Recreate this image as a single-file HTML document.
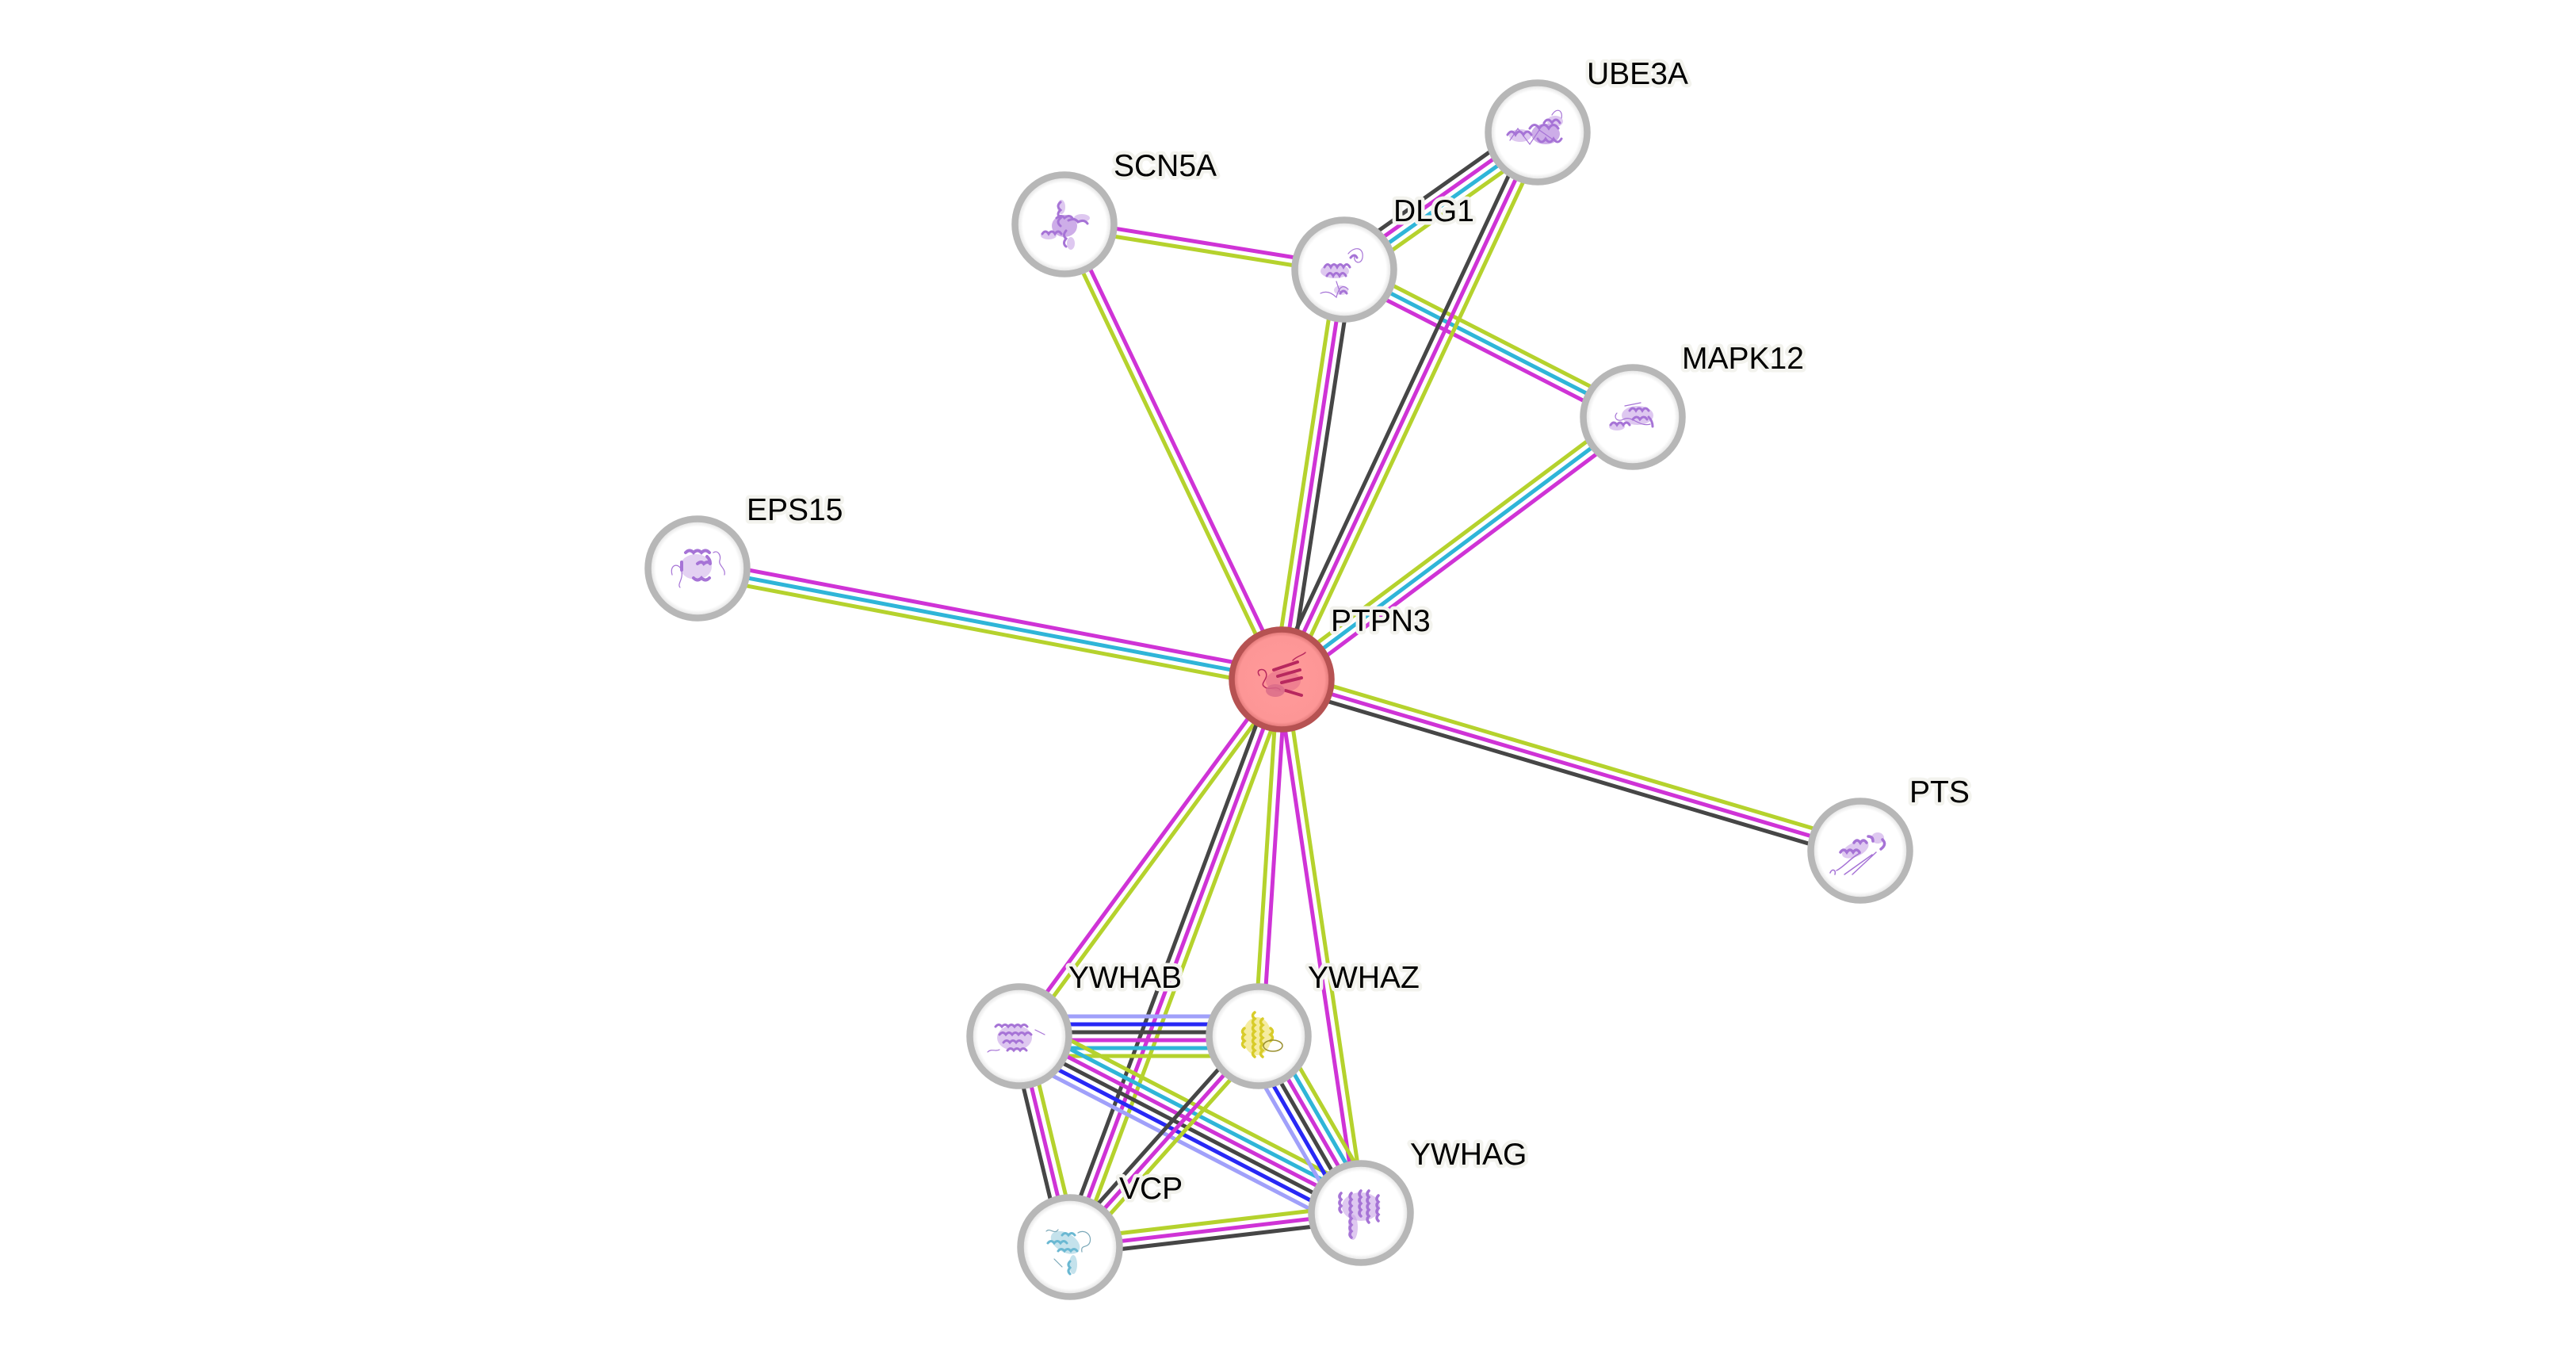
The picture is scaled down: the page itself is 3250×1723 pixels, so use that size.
<!DOCTYPE html>
<html>
<head>
<meta charset="utf-8">
<style>
  html,body{margin:0;padding:0;background:#fff;}
  svg{display:block;}
  .lbl{font-family:"Liberation Sans",Arial,sans-serif;font-size:39px;fill:#000;stroke:#f3f3ee;stroke-width:9px;paint-order:stroke;stroke-linejoin:round;}
  .e line{stroke-width:5;}
</style>
</head>
<body>
<svg width="3250" height="1723" viewBox="0 0 3250 1723" xmlns="http://www.w3.org/2000/svg">
<defs>
  <radialGradient id="ng" cx="50%" cy="50%" r="50%">
    <stop offset="0%" stop-color="#ffffff"/>
    <stop offset="84%" stop-color="#ffffff"/>
    <stop offset="100%" stop-color="#d6d6d6"/>
  </radialGradient>
  <radialGradient id="pg" cx="50%" cy="50%" r="50%">
    <stop offset="0%" stop-color="#ff9a9a"/>
    <stop offset="86%" stop-color="#fd9696"/>
    <stop offset="100%" stop-color="#d46a6a"/>
  </radialGradient>
</defs>
<rect width="3250" height="1723" fill="#fff"/>

<!-- EDGES -->
<g class="e">
  <g transform="translate(880 717) rotate(10.76)">
    <line x1="0" y1="-10" x2="750.2" y2="-10" stroke="#cf33d6"/>
    <line x1="0" y1="0" x2="750.2" y2="0" stroke="#2fb5d8"/>
    <line x1="0" y1="10" x2="750.2" y2="10" stroke="#b5d22d"/>
  </g>
  <g transform="translate(1343 283) rotate(64.48)">
    <line x1="0" y1="-5" x2="636" y2="-5" stroke="#cf33d6"/>
    <line x1="0" y1="5" x2="636" y2="5" stroke="#b5d22d"/>
  </g>
  <g transform="translate(1343 283) rotate(9.17)">
    <line x1="0" y1="-5" x2="357.6" y2="-5" stroke="#cf33d6"/>
    <line x1="0" y1="5" x2="357.6" y2="5" stroke="#b5d22d"/>
  </g>
  <g transform="translate(1696 340) rotate(98.69)">
    <line x1="0" y1="-10" x2="523" y2="-10" stroke="#464646"/>
    <line x1="0" y1="0" x2="523" y2="0" stroke="#cf33d6"/>
    <line x1="0" y1="10" x2="523" y2="10" stroke="#b5d22d"/>
  </g>
  <g transform="translate(1696 340) rotate(-35.33)">
    <line x1="0" y1="-15" x2="299.1" y2="-15" stroke="#464646"/>
    <line x1="0" y1="-5" x2="299.1" y2="-5" stroke="#cf33d6"/>
    <line x1="0" y1="5" x2="299.1" y2="5" stroke="#2fb5d8"/>
    <line x1="0" y1="15" x2="299.1" y2="15" stroke="#b5d22d"/>
  </g>
  <g transform="translate(1696 340) rotate(27.06)">
    <line x1="0" y1="-10" x2="408.8" y2="-10" stroke="#b5d22d"/>
    <line x1="0" y1="0" x2="408.8" y2="0" stroke="#2fb5d8"/>
    <line x1="0" y1="10" x2="408.8" y2="10" stroke="#cf33d6"/>
  </g>
  <g transform="translate(1617 857) rotate(-64.92)">
    <line x1="0" y1="-10" x2="761.9" y2="-10" stroke="#464646"/>
    <line x1="0" y1="0" x2="761.9" y2="0" stroke="#cf33d6"/>
    <line x1="0" y1="10" x2="761.9" y2="10" stroke="#b5d22d"/>
  </g>
  <g transform="translate(1617 857) rotate(-36.77)">
    <line x1="0" y1="-10" x2="553" y2="-10" stroke="#b5d22d"/>
    <line x1="0" y1="0" x2="553" y2="0" stroke="#2fb5d8"/>
    <line x1="0" y1="10" x2="553" y2="10" stroke="#cf33d6"/>
  </g>
  <g transform="translate(1617 857) rotate(16.48)">
    <line x1="0" y1="-10" x2="761.3" y2="-10" stroke="#b5d22d"/>
    <line x1="0" y1="0" x2="761.3" y2="0" stroke="#cf33d6"/>
    <line x1="0" y1="10" x2="761.3" y2="10" stroke="#464646"/>
  </g>
  <g transform="translate(1617 857) rotate(126.33)">
    <line x1="0" y1="-5" x2="558.6" y2="-5" stroke="#b5d22d"/>
    <line x1="0" y1="5" x2="558.6" y2="5" stroke="#cf33d6"/>
  </g>
  <g transform="translate(1617 857) rotate(110.45)">
    <line x1="0" y1="-10" x2="764.2" y2="-10" stroke="#b5d22d"/>
    <line x1="0" y1="0" x2="764.2" y2="0" stroke="#cf33d6"/>
    <line x1="0" y1="10" x2="764.2" y2="10" stroke="#464646"/>
  </g>
  <g transform="translate(1617 857) rotate(93.69)">
    <line x1="0" y1="-5" x2="450.9" y2="-5" stroke="#cf33d6"/>
    <line x1="0" y1="5" x2="450.9" y2="5" stroke="#b5d22d"/>
  </g>
  <g transform="translate(1617 857) rotate(81.55)">
    <line x1="0" y1="-5" x2="680.4" y2="-5" stroke="#b5d22d"/>
    <line x1="0" y1="5" x2="680.4" y2="5" stroke="#cf33d6"/>
  </g>
  <g transform="translate(1286 1307) rotate(0)">
    <line x1="0" y1="-25" x2="302" y2="-25" stroke="#a0a0fa"/>
    <line x1="0" y1="-15" x2="302" y2="-15" stroke="#2828f5"/>
    <line x1="0" y1="-5" x2="302" y2="-5" stroke="#464646"/>
    <line x1="0" y1="5" x2="302" y2="5" stroke="#cf33d6"/>
    <line x1="0" y1="15" x2="302" y2="15" stroke="#2fb5d8"/>
    <line x1="0" y1="25" x2="302" y2="25" stroke="#b5d22d"/>
  </g>
  <g transform="translate(1286 1307) rotate(27.36)">
    <line x1="0" y1="-25" x2="485.3" y2="-25" stroke="#b5d22d"/>
    <line x1="0" y1="-15" x2="485.3" y2="-15" stroke="#2fb5d8"/>
    <line x1="0" y1="-5" x2="485.3" y2="-5" stroke="#cf33d6"/>
    <line x1="0" y1="5" x2="485.3" y2="5" stroke="#464646"/>
    <line x1="0" y1="15" x2="485.3" y2="15" stroke="#2828f5"/>
    <line x1="0" y1="25" x2="485.3" y2="25" stroke="#a0a0fa"/>
  </g>
  <g transform="translate(1286 1307) rotate(76.47)">
    <line x1="0" y1="-10" x2="273.6" y2="-10" stroke="#b5d22d"/>
    <line x1="0" y1="0" x2="273.6" y2="0" stroke="#cf33d6"/>
    <line x1="0" y1="10" x2="273.6" y2="10" stroke="#464646"/>
  </g>
  <g transform="translate(1588 1307) rotate(59.95)">
    <line x1="0" y1="-25" x2="257.6" y2="-25" stroke="#b5d22d"/>
    <line x1="0" y1="-15" x2="257.6" y2="-15" stroke="#2fb5d8"/>
    <line x1="0" y1="-5" x2="257.6" y2="-5" stroke="#cf33d6"/>
    <line x1="0" y1="5" x2="257.6" y2="5" stroke="#464646"/>
    <line x1="0" y1="15" x2="257.6" y2="15" stroke="#2828f5"/>
    <line x1="0" y1="25" x2="257.6" y2="25" stroke="#a0a0fa"/>
  </g>
  <g transform="translate(1588 1307) rotate(131.82)">
    <line x1="0" y1="-10" x2="356.9" y2="-10" stroke="#b5d22d"/>
    <line x1="0" y1="0" x2="356.9" y2="0" stroke="#cf33d6"/>
    <line x1="0" y1="10" x2="356.9" y2="10" stroke="#464646"/>
  </g>
  <g transform="translate(1350 1573) rotate(-6.68)">
    <line x1="0" y1="-10" x2="369.5" y2="-10" stroke="#b5d22d"/>
    <line x1="0" y1="0" x2="369.5" y2="0" stroke="#cf33d6"/>
    <line x1="0" y1="10" x2="369.5" y2="10" stroke="#464646"/>
  </g>
</g>

<!-- NODES -->
<g stroke="#b7b7b7" stroke-width="8.5" fill="url(#ng)">
  <circle cx="1940" cy="167" r="62.5"/>
  <circle cx="1343" cy="283" r="62.5"/>
  <circle cx="1696" cy="340" r="62.5"/>
  <circle cx="2060" cy="526" r="62.5"/>
  <circle cx="880" cy="717" r="62.5"/>
  <circle cx="2347" cy="1073" r="62.5"/>
  <circle cx="1286" cy="1307" r="62.5"/>
  <circle cx="1588" cy="1307" r="62.5"/>
  <circle cx="1717" cy="1530" r="62.5"/>
  <circle cx="1350" cy="1573" r="62.5"/>
</g>
<circle cx="1617" cy="857" r="63" fill="url(#pg)" stroke="#b65252" stroke-width="7.5"/>

<!-- protein structure sketches -->
<g fill="none" stroke-linecap="round">
  <!-- UBE3A -->
  <g transform="translate(1940 167)" stroke="#a673d6" stroke-width="3">
    <ellipse cx="-22" cy="4" rx="14" ry="8" fill="#c8a4e6" stroke="none" opacity="0.6"/>
    <ellipse cx="10" cy="2" rx="18" ry="13" fill="#b88ade" stroke="none" opacity="0.7"/>
    <ellipse cx="22" cy="-14" rx="10" ry="7" fill="#c8a4e6" stroke="none" opacity="0.6"/>
    <path d="M-38 3 q5 -8 10 0 q5 -8 10 0 q5 -8 10 0 M-10 -5 q6 -9 12 0 q6 -9 12 0 q6 -9 12 0 M0 8 q5 8 10 0 q5 8 10 0 q5 8 10 0 M8 -12 q5 -8 10 0 q5 -8 10 0"/>
    <path d="M-35 10 l10 -15 l15 20 l12 -18 l20 14 M18 -22 c6 -10 14 -6 12 4" stroke-width="1.2"/>
  </g>
  <!-- SCN5A -->
  <g transform="translate(1343 283)" stroke="#a673d6" stroke-width="3">
    <ellipse cx="0" cy="2" rx="16" ry="14" fill="#b88ade" stroke="none" opacity="0.7"/>
    <ellipse cx="-20" cy="14" rx="10" ry="5" fill="#c8a4e6" stroke="none" opacity="0.6"/>
    <ellipse cx="22" cy="-8" rx="10" ry="5" fill="#c8a4e6" stroke="none" opacity="0.6"/>
    <ellipse cx="-4" cy="-22" rx="5" ry="9" fill="#c8a4e6" stroke="none" opacity="0.6"/>
    <ellipse cx="8" cy="24" rx="5" ry="8" fill="#c8a4e6" stroke="none" opacity="0.6"/>
    <path d="M-5 -28 q-6 5 0 10 q-6 5 0 10 q-6 5 0 10 M5 -5 q8 -4 12 2 q8 -4 12 2 M-28 12 q4 -6 8 0 q4 -6 8 0 q4 -6 8 0 M2 8 q-5 6 0 10 q-5 6 0 10 M-10 -8 q6 -5 10 0 q6 -5 10 0"/>
  </g>
  <!-- DLG1 -->
  <g transform="translate(1696 340)" stroke="#a673d6" stroke-width="3">
    <ellipse cx="-12" cy="2" rx="18" ry="9" fill="#c8a4e6" stroke="none" opacity="0.6"/>
    <ellipse cx="-4" cy="26" rx="9" ry="6" fill="#c8a4e6" stroke="none" opacity="0.5"/>
    <path d="M-25 -3 q4 -7 8 0 q4 -7 8 0 q4 -7 8 0 q4 -7 8 0 M-22 8 q4 -7 8 0 q4 -7 8 0 q4 -7 8 0 M-5 30 q4 -6 8 0 M8 -15 q5 -6 8 0"/>
    <path d="M-30 30 q10 -5 20 5 q5 -20 15 -10 M5 -20 c8 -10 20 -8 18 5 c-2 10 -12 6 -10 -2 M-10 15 l5 15" stroke-width="1.2"/>
  </g>
  <!-- MAPK12 -->
  <g transform="translate(2060 526)" stroke="#a673d6" stroke-width="3">
    <ellipse cx="6" cy="-2" rx="20" ry="12" fill="#c8a4e6" stroke="none" opacity="0.6"/>
    <ellipse cx="-20" cy="12" rx="10" ry="5" fill="#c8a4e6" stroke="none" opacity="0.6"/>
    <path d="M-28 10 q4 -6 8 0 q4 -6 8 0 q4 -6 8 0 M-4 -8 q4 -6 8 0 q4 -6 8 0 q4 -6 8 0 M0 3 q5 -6 9 0 q5 -6 9 0 M20 0 q5 5 5 12"/>
    <path d="M-20 -5 c-5 5 0 12 8 8 c10 -6 20 10 34 6 M-10 -14 l20 -4" stroke-width="1.2"/>
  </g>
  <!-- EPS15 -->
  <g transform="translate(880 717)" stroke="#a673d6" stroke-width="4">
    <ellipse cx="-2" cy="-2" rx="20" ry="16" fill="#c8a4e6" stroke="none" opacity="0.5"/>
    <path d="M-15 -20 q5 -5 10 0 q5 -5 10 0 q5 -5 10 0 M-20 -8 q0 5 0 10 M0 -6 q5 -4 8 0 q5 -4 8 0 M-5 12 q5 5 10 0 q5 5 10 0 M12 -15 q4 4 4 8"/>
    <path d="M-32 8 c-4 -14 10 -16 12 -4 c2 10 -6 16 -2 20 M20 -20 c6 -4 10 4 8 10 c-2 6 8 10 6 18" stroke-width="1.2"/>
  </g>
  <!-- PTS -->
  <g transform="translate(2347 1073)" stroke="#a673d6" stroke-width="3.5">
    <ellipse cx="-5" cy="-4" rx="18" ry="9" fill="#c8a4e6" stroke="none" opacity="0.6" transform="rotate(-25)"/>
    <ellipse cx="22" cy="-16" rx="8" ry="7" fill="#c8a4e6" stroke="none" opacity="0.6"/>
    <path d="M-25 2 q4 -6 8 0 q4 -6 8 0 q4 -6 8 0 M-8 -10 q4 -6 8 0 q4 -6 8 0 M10 -18 q6 0 6 6 M28 -14 q6 6 -2 12"/>
    <path d="M-30 25 c10 -5 20 -18 30 -22 M-20 30 l35 -25 M-10 30 l30 -28 M-38 28 c2 -6 8 -4 6 2" stroke-width="1.5"/>
  </g>
  <!-- YWHAB -->
  <g transform="translate(1286 1307)" stroke="#a673d6" stroke-width="3">
    <ellipse cx="-6" cy="2" rx="22" ry="16" fill="#c8a4e6" stroke="none" opacity="0.6"/>
    <path d="M-30 -12 q4 -5 8 0 q4 -5 8 0 q4 -5 8 0 q4 -5 8 0 q4 -5 8 0 M-25 -2 q4 -5 8 0 q4 -5 8 0 q4 -5 8 0 q4 -5 8 0 q4 -5 8 0 M-20 8 q4 -5 8 0 q4 -5 8 0 q4 -5 8 0 M-15 18 q4 -5 8 0 q4 -5 8 0 q4 -5 8 0"/>
    <path d="M-40 20 c5 -5 10 0 15 -3 M20 -8 l12 6" stroke-width="1.2"/>
  </g>
  <!-- YWHAZ -->
  <g transform="translate(1588 1307)" stroke="#d8cc2a" stroke-width="3.5">
    <ellipse cx="-2" cy="0" rx="18" ry="24" fill="#eee060" stroke="none" opacity="0.6"/>
    <path d="M-5 -30 q-5 4 0 8 q-5 4 0 8 q-5 4 0 8 q-5 4 0 8 q-5 4 0 8 q-5 4 0 8 q-5 4 0 8 M5 -22 q-5 4 0 8 q-5 4 0 8 q-5 4 0 8 q-5 4 0 8 q-5 4 0 8 q-5 4 0 8 M-18 -10 q-5 4 0 8 q-5 4 0 8 q-5 4 0 8 M15 -10 q5 4 0 8 q5 4 0 8"/>
    <ellipse cx="18" cy="12" rx="12" ry="7" stroke="#9a9030" stroke-width="1.5"/>
  </g>
  <!-- YWHAG -->
  <g transform="translate(1717 1530)" stroke="#a673d6" stroke-width="3.5">
    <ellipse cx="0" cy="-8" rx="24" ry="18" fill="#c8a4e6" stroke="none" opacity="0.6"/>
    <ellipse cx="-10" cy="18" rx="6" ry="16" fill="#c8a4e6" stroke="none" opacity="0.6"/>
    <path d="M-25 -25 q-4 4 0 8 q-4 4 0 8 q-4 4 0 8 M-12 -25 q-4 4 0 8 q-4 4 0 8 q-4 4 0 8 q-4 4 0 8 q-4 4 0 8 q-4 4 0 8 q-4 4 0 8 M0 -28 q-4 4 0 8 q-4 4 0 8 q-4 4 0 8 q-4 4 0 8 M10 -28 q-4 4 0 8 q-4 4 0 8 q-4 4 0 8 q-4 4 0 8 q-4 4 0 8 M22 -22 q-4 4 0 8 q-4 4 0 8 q-4 4 0 8 q-4 4 0 8"/>
  </g>
  <!-- VCP -->
  <g transform="translate(1350 1573)" stroke="#6ab8d2" stroke-width="3">
    <ellipse cx="-8" cy="-2" rx="20" ry="12" fill="#9ccfe0" stroke="none" opacity="0.6" transform="rotate(30)"/>
    <ellipse cx="4" cy="22" rx="5" ry="12" fill="#9ccfe0" stroke="none" opacity="0.6"/>
    <path d="M-28 -5 q4 -5 8 0 q4 -5 8 0 q4 -5 8 0 M-15 5 q4 -5 8 0 q4 -5 8 0 q4 -5 8 0 M-10 -15 q4 -5 8 0 q4 -5 8 0 M0 18 q-4 4 0 8 q-4 4 0 8"/>
    <path d="M-30 -20 c5 -5 10 5 15 -2 M10 -18 c8 -5 18 2 15 12 c-3 8 -12 2 -10 12 M-20 15 l10 10" stroke="#7aa8b8" stroke-width="1.2"/>
  </g>
  <!-- PTPN3 -->
  <g transform="translate(1617 857)" stroke="#b8285e" stroke-width="4">
    <ellipse cx="2" cy="2" rx="22" ry="14" fill="#e06888" stroke="none" opacity="0.5"/>
    <path d="M-10 -12 l30 -10 M-5 -4 l28 -8 M0 4 l25 -6 M5 14 l20 6"/>
    <path d="M-28 -5 c-6 -8 6 -10 8 -4 c4 8 -8 14 -2 18 c6 6 14 -2 20 4 M14 -24 c6 -6 12 -6 16 -10" stroke-width="1.5"/>
    <ellipse cx="-8" cy="14" rx="12" ry="8" fill="#d86a88" stroke="none" opacity="0.8"/>
  </g>
</g>

<!-- LABELS -->
<g>
  <text class="lbl" x="1679" y="796">PTPN3</text>
  <text class="lbl" x="2002" y="106">UBE3A</text>
  <text class="lbl" x="1405" y="222">SCN5A</text>
  <text class="lbl" x="1758" y="279">DLG1</text>
  <text class="lbl" x="2122" y="465">MAPK12</text>
  <text class="lbl" x="942" y="656">EPS15</text>
  <text class="lbl" x="2409" y="1012">PTS</text>
  <text class="lbl" x="1348" y="1246">YWHAB</text>
  <text class="lbl" x="1650" y="1246">YWHAZ</text>
  <text class="lbl" x="1779" y="1469">YWHAG</text>
  <text class="lbl" x="1412" y="1512">VCP</text>
</g>
</svg>
</body>
</html>
